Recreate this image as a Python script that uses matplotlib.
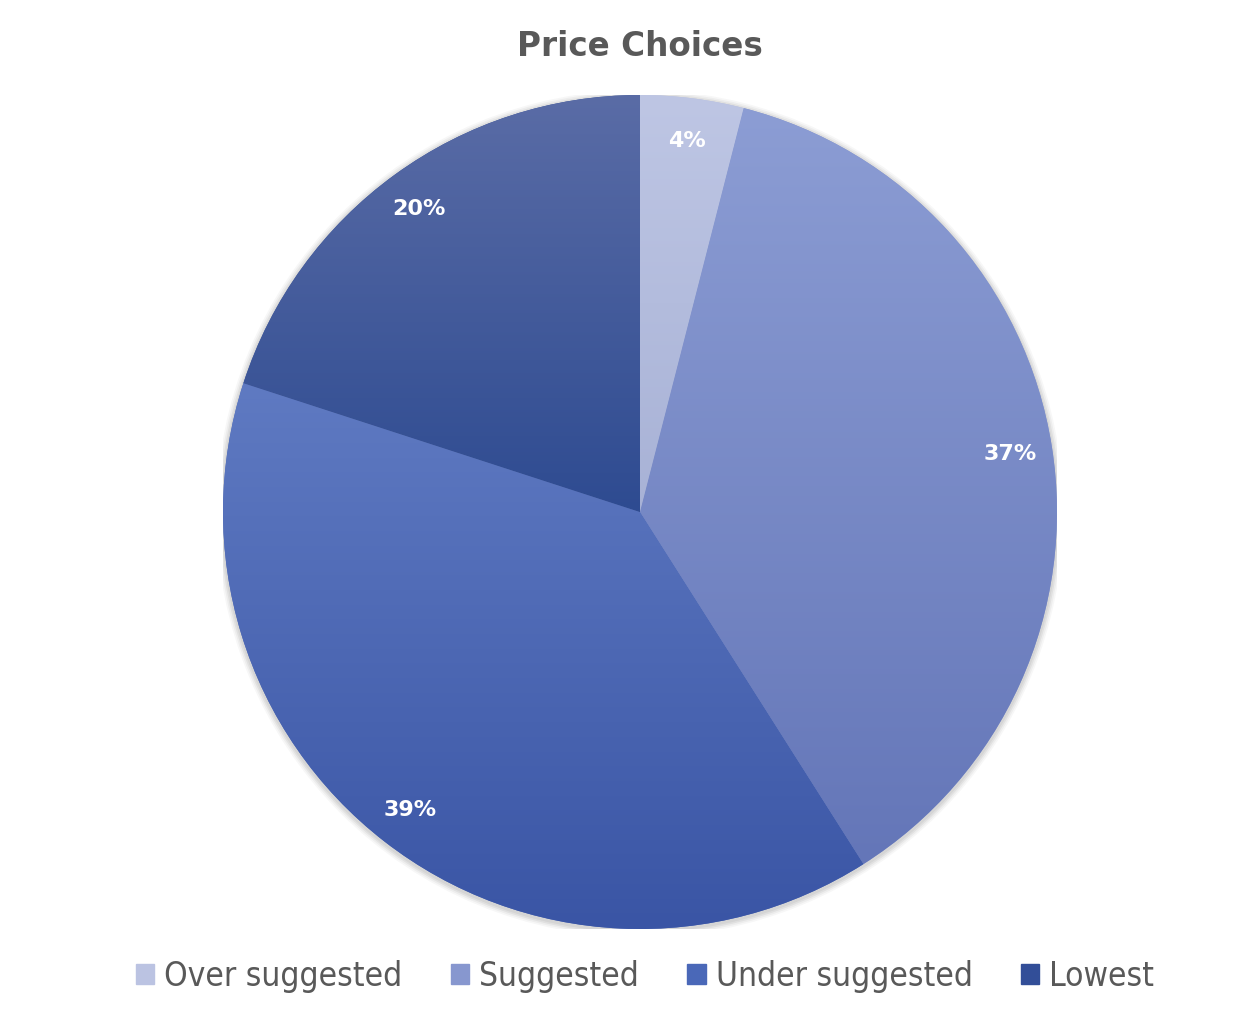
import numpy as np
import matplotlib
matplotlib.use("Agg")
import matplotlib.pyplot as plt
from matplotlib.colors import LinearSegmentedColormap
from matplotlib.patches import Circle

categories = ["Over suggested", "Suggested", "Under suggested", "Lowest"]
shares = [4, 37, 39, 20]
# colours at the top and bottom of each slice (gradient fill)
top_colors = ["#BEC6E4", "#8C9DD4", "#5F7AC2", "#5A6CA6"]
bottom_colors = ["#A8B2D6", "#6476B8", "#3A55A5", "#2E4B91"]
legend_colors = ["#BBC3E2", "#8797CF", "#4A68B8", "#324E98"]


def main():
    fig = plt.figure(figsize=(12.44, 10.2), dpi=100)
    r = 417
    ax = fig.add_axes([(640 - r) / 1244, (1020 - 930) / 1020, 2 * r / 1244, 2 * r / 1020])

    # soft shadow around the pie
    for i, a in enumerate([0.05, 0.05, 0.04, 0.03]):
        ax.add_patch(Circle((0, -0.004), 1.0 + 0.004 * (i + 1), color="black", alpha=a, lw=0, zorder=0))

    wedges, texts, autotexts = ax.pie(
        shares, startangle=90, counterclock=False, radius=1.0,
        autopct=lambda p: f"{p:.0f}%", pctdistance=0.9,
        colors=legend_colors, wedgeprops=dict(linewidth=0),
        textprops=dict(color="white", fontsize=16, fontweight="bold"))

    grad = np.linspace(0, 1, 256).reshape(-1, 1)
    for w, c0, c1 in zip(wedges, top_colors, bottom_colors):
        bb = w.get_path().get_extents(w.get_patch_transform())
        cmap = LinearSegmentedColormap.from_list("g", [c0, c1])
        im = ax.imshow(grad, cmap=cmap, extent=(-1, 1, bb.y0, bb.y1), origin="upper",
                       aspect="auto", zorder=1.5, interpolation="bilinear")
        im.set_clip_path(w)
    for t in autotexts:
        t.set_zorder(3)

    ax.set_xlim(-1, 1)
    ax.set_ylim(-1, 1)
    ax.set_aspect("equal")
    ax.axis("off")

    fig.text(640 / 1244, 1 - 47 / 1020, "Price Choices", ha="center", va="center",
             fontsize=23.5, fontweight="bold", color="#595959")

    handles = [plt.Rectangle((0, 0), 1, 1, color=c) for c in legend_colors]
    fig.legend(handles, categories, loc="center", bbox_to_anchor=(645 / 1244, 1 - 977 / 1020),
               ncol=4, frameon=False, handlelength=0.55, handleheight=0.55,
               handletextpad=0.3, columnspacing=1.45,
               prop=dict(family="DejaVu Sans", stretch="condensed", size=24),
               labelcolor="#595959")

    fig.savefig("out.png", dpi=100, facecolor="white")


if __name__ == "__main__":
    main()
